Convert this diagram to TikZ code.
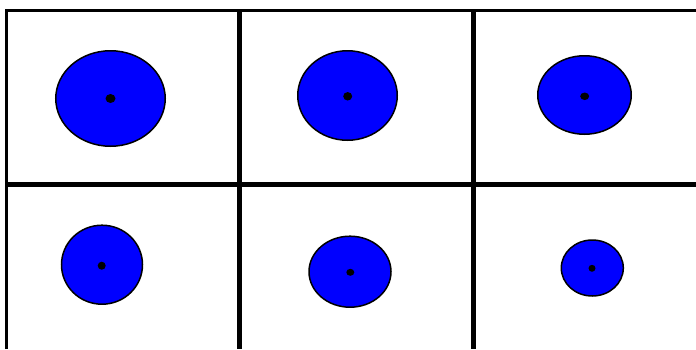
\documentclass[tikz,border=0pt]{standalone}
\usetikzlibrary{shapes.geometric}
\begin{document}
\begin{tikzpicture}[x=1pt,y=-1pt,
blob/.style={ellipse,draw,fill=blue,line width=1.5pt,inner sep=0pt},
core/.style={ellipse,fill=black,inner sep=0pt},
frame/.style={line width=2.5pt},
divider/.style={line width=5pt}]
\useasboundingbox (0,0) rectangle (696,349);
% grid
\draw[frame] (6.5,349) -- (6.5,10.5) -- (696,10.5);
\draw[divider] (239,10.5) -- (239,349);
\draw[divider] (473.5,10.5) -- (473.5,349);
\draw[divider] (6.5,184.5) -- (696,184.5);
% top row
\node[blob,minimum width=109.5pt,minimum height=95.5pt] (blobA) at (110.5,98.5) {};
\node[core,minimum width=10pt,minimum height=9pt] (coreA) at (blobA.center) {};
\node[blob,minimum width=99.5pt,minimum height=89.5pt] (blobB) at (347.5,95.5) {};
\node[core,minimum width=9pt,minimum height=8.5pt] (coreB) at (347.7,96.3) {};
\node[blob,minimum width=93.5pt,minimum height=78.5pt] (blobC) at (584.5,95) {};
\node[core,minimum width=9pt,minimum height=7.5pt] (coreC) at (584.7,96.3) {};
% bottom row
\node[blob,minimum width=81pt,minimum height=79pt] (blobD) at (102,264.7) {};
\node[core,minimum width=8pt,minimum height=8pt] (coreD) at (101.7,265.7) {};
\node[blob,minimum width=82pt,minimum height=71pt] (blobE) at (350,271.7) {};
\node[core,minimum width=8pt,minimum height=7pt] (coreE) at (350.3,272.3) {};
\node[blob,minimum width=62pt,minimum height=56pt] (blobF) at (592.3,268) {};
\node[core,minimum width=7pt,minimum height=7pt] (coreF) at (592,268.3) {};
\end{tikzpicture}
\end{document}
